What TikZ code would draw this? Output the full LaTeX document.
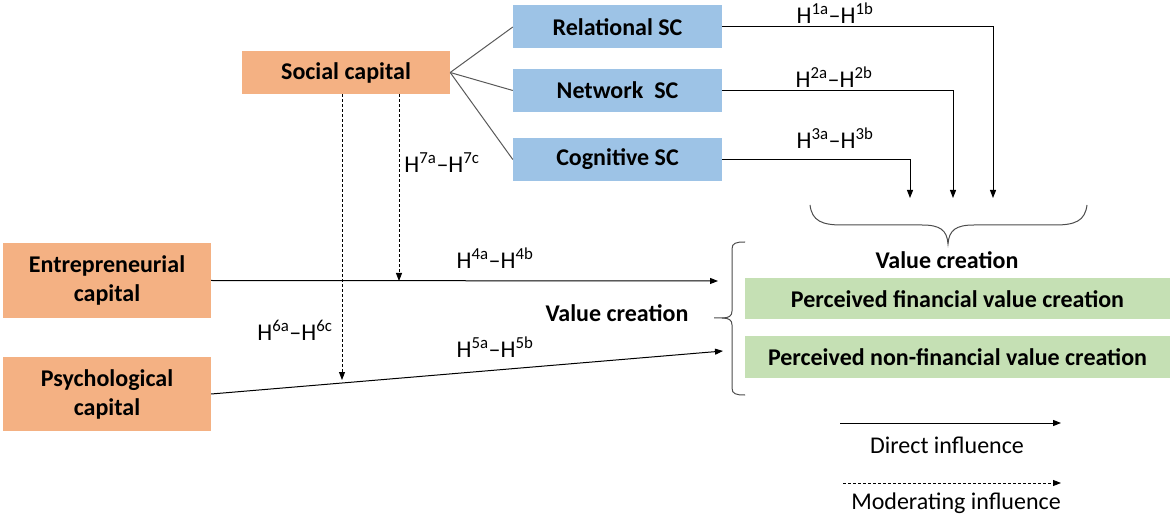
\documentclass[tikz,border=0pt]{standalone}
\usepackage{fontspec}
\setmainfont{Carlito}
\usetikzlibrary{arrows.meta}

\definecolor{capOrange}{HTML}{F4B183}
\definecolor{scBlue}{HTML}{9DC3E6}
\definecolor{vcGreen}{HTML}{C5E0B4}

\tikzset{
  txt/.style={font=\fontsize{24}{28}\selectfont, inner sep=0pt},
  boldtxt/.style={font=\bfseries\fontsize{24}{29}\selectfont, inner sep=0pt, align=center},
  capbox/.style={boldtxt, fill=capOrange, minimum width=208pt},
  scbox/.style={boldtxt, fill=scBlue, minimum width=209pt, minimum height=43pt},
  vcbox/.style={boldtxt, fill=vcGreen, minimum width=425pt, minimum height=41pt},
  tip/.style={-{Triangle[length=8pt,width=6pt]}},
  direct/.style={tip, line width=1pt, black},
  moderating/.style={tip, line width=0.9pt, black, dash pattern=on 3pt off 2pt},
  branch/.style={line width=1pt, black!65},
  bracket/.style={line width=1pt, black!70},
}

\newcommand{\hyp}[2]{H\textsuperscript{#1}–H\textsuperscript{#2}}

\begin{document}
\begin{tikzpicture}[x=1pt, y=-1pt]
\useasboundingbox (0,0) rectangle (1172,518);

% constructs
\node[capbox, minimum height=43pt] (sc) at (346,72.5) {Social capital};
\node[scbox] (rel) at (617.5,27) {Relational SC};
\node[scbox] (net) at (617.5,90.5) {Network\ \ SC};
\node[scbox] (cog) at (617.5,159.5) {Cognitive SC};
\node[capbox, minimum height=75pt] (ent) at (107,280.5) {Entrepreneurial\\capital};
\node[capbox, minimum height=74pt] (psy) at (107,394) {Psychological\\capital};
\node[vcbox] (fin) at (957.5,299) {Perceived financial value creation};
\node[vcbox] (nonfin) at (957.5,357) {Perceived non-financial value creation};
\node[boldtxt] (vcTop) at (947,260) {Value creation};
\node[boldtxt] (vcLeft) at (617,313) {Value creation};

% social capital dimensions
\draw[branch] (sc.east) -- (rel.west);
\draw[branch] (sc.east) -- (net.west);
\draw[branch] (sc.east) -- (cog.west);

% paths from the dimensions to value creation
\coordinate (t1) at (993,198);
\coordinate (t2) at (953,198);
\coordinate (t3) at (910,198);
\draw[direct] (rel.east) -| (t1);
\draw[direct] (net.east) -| (t2);
\draw[direct] (cog.east) -| (t3);
\node[txt] (h1) at (835,13) {\hyp{1a}{1b}};
\node[txt] (h2) at (834,77) {\hyp{2a}{2b}};
\node[txt] (h3) at (835,138) {\hyp{3a}{3b}};

% brace over the value creation label
\draw[bracket] (810,205) .. controls (812,221) and (822,225) .. (842,225)
  -- (922,225) .. controls (940,225) and (947,230) .. (948,244)
  .. controls (949,230) and (956,225) .. (974,225)
  -- (1055,225) .. controls (1075,225) and (1085,221) .. (1087,205);

% bracket beside the value creation boxes
\draw[bracket] (745,242) .. controls (736,242) and (732,243) .. (732,249)
  -- (732,311) .. controls (732,316) and (729,318) .. (722,318) -- (714,318);
\draw[bracket] (722,318) .. controls (729,318) and (732,320) .. (732,325)
  -- (732,388) .. controls (732,394) and (736,395) .. (745,395);

% direct influences
\coordinate (e4) at (718,281);
\coordinate (e5) at (723,351);
\draw[direct] (ent.east) -- (e4);
\draw[direct] (psy.east) -- (e5);
\node[txt] (h4) at (495,258) {\hyp{4a}{4b}};
\node[txt] (h5) at (495,347) {\hyp{5a}{5b}};

% moderating influences of social capital
\coordinate (m6) at (342,380);
\coordinate (m7) at (399,281);
\draw[moderating] (sc.south -| m6) -- (m6);
\draw[moderating] (sc.south -| m7) -- (m7);
\node[txt] (h7) at (442,163) {\hyp{7a}{7c}};
\node[txt] (h6) at (295,330) {\hyp{6a}{6c}};

% legend
\coordinate (la) at (840,423);
\coordinate (lb) at (1061,423);
\coordinate (lc) at (843,483);
\coordinate (ld) at (1061,483);
\draw[direct] (la) -- (lb);
\draw[moderating] (lc) -- (ld);
\node[txt] (ldir) at (947,445) {Direct influence};
\node[txt] (lmod) at (956,503) {Moderating influence};
\end{tikzpicture}
\end{document}
